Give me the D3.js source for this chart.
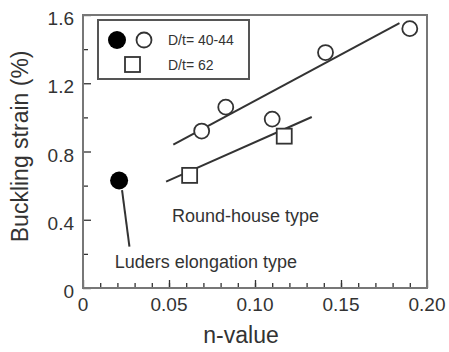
<!doctype html>
<html lang="en">
<head>
<meta charset="utf-8">
<title>Buckling strain vs n-value</title>
<script src="https://cdn.jsdelivr.net/npm/d3@7"></script>
<style>
    body { margin: 0; background: #fff; }
    svg text { font-family: "Liberation Sans", Arial, sans-serif; fill: #333; }
</style>
</head>
<body>
<svg width="449" height="352" id="chart"></svg>
<script>
    // data
    const luders = [[0.021, 0.63]];
    const roundDt40 = [[0.069, 0.92], [0.083, 1.06], [0.110, 0.99], [0.141, 1.38], [0.190, 1.52]];
    const roundDt62 = [[0.062, 0.66], [0.117, 0.89]];
    const fitDt40 = [[0.0525, 0.84], [0.184, 1.553]];
    const fitDt62 = [[0.0483, 0.623], [0.133, 1.002]];
    const leader = [[0.0227, 0.574], [0.027, 0.242]];
    const xTicks = [0, 0.05, 0.10, 0.15, 0.20];
    const xTickLabels = ["0", "0.05", "0.10", "0.15", "0.20"];
    const yTicks = [0, 0.4, 0.8, 1.2, 1.6];
    const yTickLabels = ["0", "0.4", "0.8", "1.2", "1.6"];

    const svg = d3.select("#chart");
    const margin = {top: 15, right: 22, bottom: 64, left: 83};
    const width = +svg.attr("width") - margin.left - margin.right;
    const height = +svg.attr("height") - margin.top - margin.bottom;
    const ink = "#333";

    const g = svg.append("g")
        .attr("transform", "translate(" + margin.left + "," + margin.top + ")");

    const x = d3.scaleLinear().domain([0, 0.2]).range([0, width]);
    const y = d3.scaleLinear().domain([0, 1.6]).range([height, 0]);

    // minor ticks (inward)
    g.append("g")
        .attr("transform", "translate(0," + height + ")")
        .call(d3.axisTop(x).tickValues(d3.range(0.01, 0.2, 0.01)).tickSize(5).tickFormat(""))
        .call(a => a.select(".domain").remove())
        .call(a => a.selectAll("line").attr("stroke", ink).attr("stroke-width", 1.3));
    g.append("g")
        .attr("transform", "translate(0," + height + ")")
        .call(d3.axisTop(x).tickValues(xTicks).tickSize(8).tickFormat(""))
        .call(a => a.select(".domain").remove())
        .call(a => a.selectAll("line").attr("stroke", ink).attr("stroke-width", 1.3));
    g.append("g")
        .call(d3.axisRight(y).tickValues([0.2, 0.6, 1.0, 1.4]).tickSize(5).tickFormat(""))
        .call(a => a.select(".domain").remove())
        .call(a => a.selectAll("line").attr("stroke", ink).attr("stroke-width", 1.3));
    g.append("g")
        .call(d3.axisRight(y).tickValues(yTicks).tickSize(8).tickFormat(""))
        .call(a => a.select(".domain").remove())
        .call(a => a.selectAll("line").attr("stroke", ink).attr("stroke-width", 1.3));

    // tick labels
    g.selectAll(".xlab").data(xTicks).enter().append("text")
        .attr("x", d => x(d)).attr("y", height + 23)
        .attr("text-anchor", "middle")
        .style("font-size", "19px")
        .text((d, i) => xTickLabels[i]);
    g.selectAll(".ylab").data(yTicks).enter().append("text")
        .attr("x", -9).attr("y", d => y(d) + 10)
        .attr("text-anchor", "end")
        .style("font-size", "19px")
        .text((d, i) => yTickLabels[i]);

    // frame
    g.append("rect")
        .attr("width", width).attr("height", height)
        .attr("fill", "none").attr("stroke", "#777").attr("stroke-width", 2);

    // axis titles
    svg.append("text")
        .attr("x", margin.left + x(0.1) - 14).attr("y", 343)
        .attr("text-anchor", "middle")
        .style("font-size", "23px")
        .text("n-value");
    svg.append("text")
        .attr("transform", "translate(28," + (margin.top + y(0.83)) + ") rotate(-90)")
        .attr("text-anchor", "middle")
        .style("font-size", "23px")
        .text("Buckling strain (%)");

    // fitted lines
    const line = d3.line().x(d => x(d[0])).y(d => y(d[1]));
    [fitDt40, fitDt62, leader].forEach(d => {
        g.append("path").datum(d).attr("d", line)
            .attr("fill", "none").attr("stroke", ink).attr("stroke-width", 2);
    });

    // markers
    g.selectAll(".open").data(roundDt40).enter().append("circle")
        .attr("cx", d => x(d[0])).attr("cy", d => y(d[1])).attr("r", 7.5)
        .attr("fill", "#fff").attr("stroke", ink).attr("stroke-width", 1.8);
    g.selectAll(".sq").data(roundDt62).enter().append("rect")
        .attr("x", d => x(d[0]) - 7.5).attr("y", d => y(d[1]) - 7.5)
        .attr("width", 15).attr("height", 15)
        .attr("fill", "#fff").attr("stroke", ink).attr("stroke-width", 1.8);
    g.selectAll(".filled").data(luders).enter().append("circle")
        .attr("cx", d => x(d[0])).attr("cy", d => y(d[1])).attr("r", 9)
        .attr("fill", "#000");

    // annotations
    g.append("text").attr("x", x(0.0517)).attr("y", y(0.385))
        .style("font-size", "18px").text("Round-house type");
    g.append("text").attr("x", x(0.0185)).attr("y", y(0.12))
        .style("font-size", "18px").text("Luders elongation type");

    // legend
    const lg = svg.append("g").attr("transform", "translate(98,20)");
    lg.append("rect").attr("width", 151).attr("height", 59)
        .attr("fill", "#fff").attr("stroke", "#555").attr("stroke-width", 2);
    lg.append("circle").attr("cx", 19).attr("cy", 20).attr("r", 9).attr("fill", "#000");
    lg.append("circle").attr("cx", 46).attr("cy", 20).attr("r", 7.5)
        .attr("fill", "#fff").attr("stroke", ink).attr("stroke-width", 1.8);
    lg.append("rect").attr("x", 27).attr("y", 37).attr("width", 15).attr("height", 15)
        .attr("fill", "#fff").attr("stroke", ink).attr("stroke-width", 1.8);
    lg.append("text").attr("x", 70).attr("y", 25).style("font-size", "14px").text("D/t= 40-44");
    lg.append("text").attr("x", 70).attr("y", 50).style("font-size", "14px").text("D/t= 62");
</script>
</body>
</html>
